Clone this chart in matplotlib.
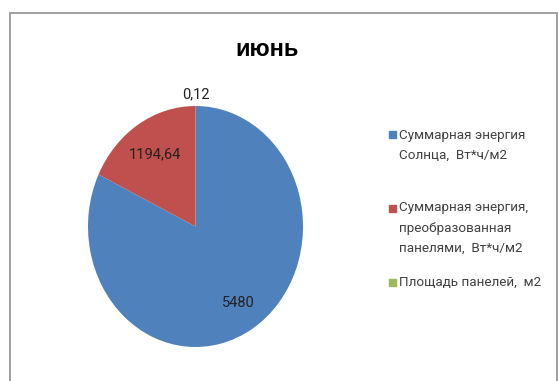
import matplotlib.pyplot as plt
from matplotlib.patches import Rectangle
import numpy as np

plt.rcParams['font.family'] = ['Roboto', 'DejaVu Sans']

# июнь: energy data
categories = ['Суммарная энергия\nСолнца,  Вт*ч/м2',
              'Суммарная энергия,\nпреобразованная\nпанелями,  Вт*ч/м2',
              'Площадь панелей,  м2']
values = [5480, 1194.64, 0.12]
colors = ['#4F81BD', '#C0504D', '#9BBB59']

W, H = 559, 381
fig = plt.figure(figsize=(W / 100, H / 100), dpi=100)

# outer chart frame (bottom edge runs off the image)
fig.patches.append(Rectangle((9.5 / W, -0.1), 547.5 / W, 1.1 - 12.5 / H,
                             transform=fig.transFigure, fill=False,
                             edgecolor='#a0a0a0', linewidth=1.4))

ax = fig.add_axes([88 / W, 1 - 347 / H, 215 / W, 241 / H])
wedges, _ = ax.pie(values, colors=colors, startangle=90, counterclock=False,
                   wedgeprops=dict(linewidth=0))
ax.set_aspect('auto')
ax.set_xlim(-1, 1)
ax.set_ylim(-1, 1)

# data labels with comma decimals
label_dist = [0.75, 0.71, 1.1]
for w, v, d in zip(wedges, values, label_dist):
    mid = np.deg2rad((w.theta1 + w.theta2) / 2)
    txt = f'{v:g}'.replace('.', ',')
    ax.text(d * np.cos(mid), d * np.sin(mid), txt, ha='center', va='center',
            fontsize=10.5, color='#222222')

fig.text(267 / W, 1 - 49 / H, 'июнь', ha='center', va='center',
         fontsize=17, fontweight='bold', family=['Liberation Sans', 'DejaVu Sans'])

# legend drawn by hand to keep Excel's spacing
legend_y = [135, 208, 282]
line_h = 20
for cat, col, y in zip(categories, colors, legend_y):
    fig.patches.append(Rectangle((389 / W, 1 - (y + 3.5) / H), 7 / W, 7 / H,
                                 transform=fig.transFigure, color=col))
    for i, line in enumerate(cat.split('\n')):
        fig.text(399 / W, 1 - (y + i * line_h) / H, line, ha='left', va='center',
                 fontsize=9.7, color='#404040')

fig.savefig('out.png', dpi=100)
